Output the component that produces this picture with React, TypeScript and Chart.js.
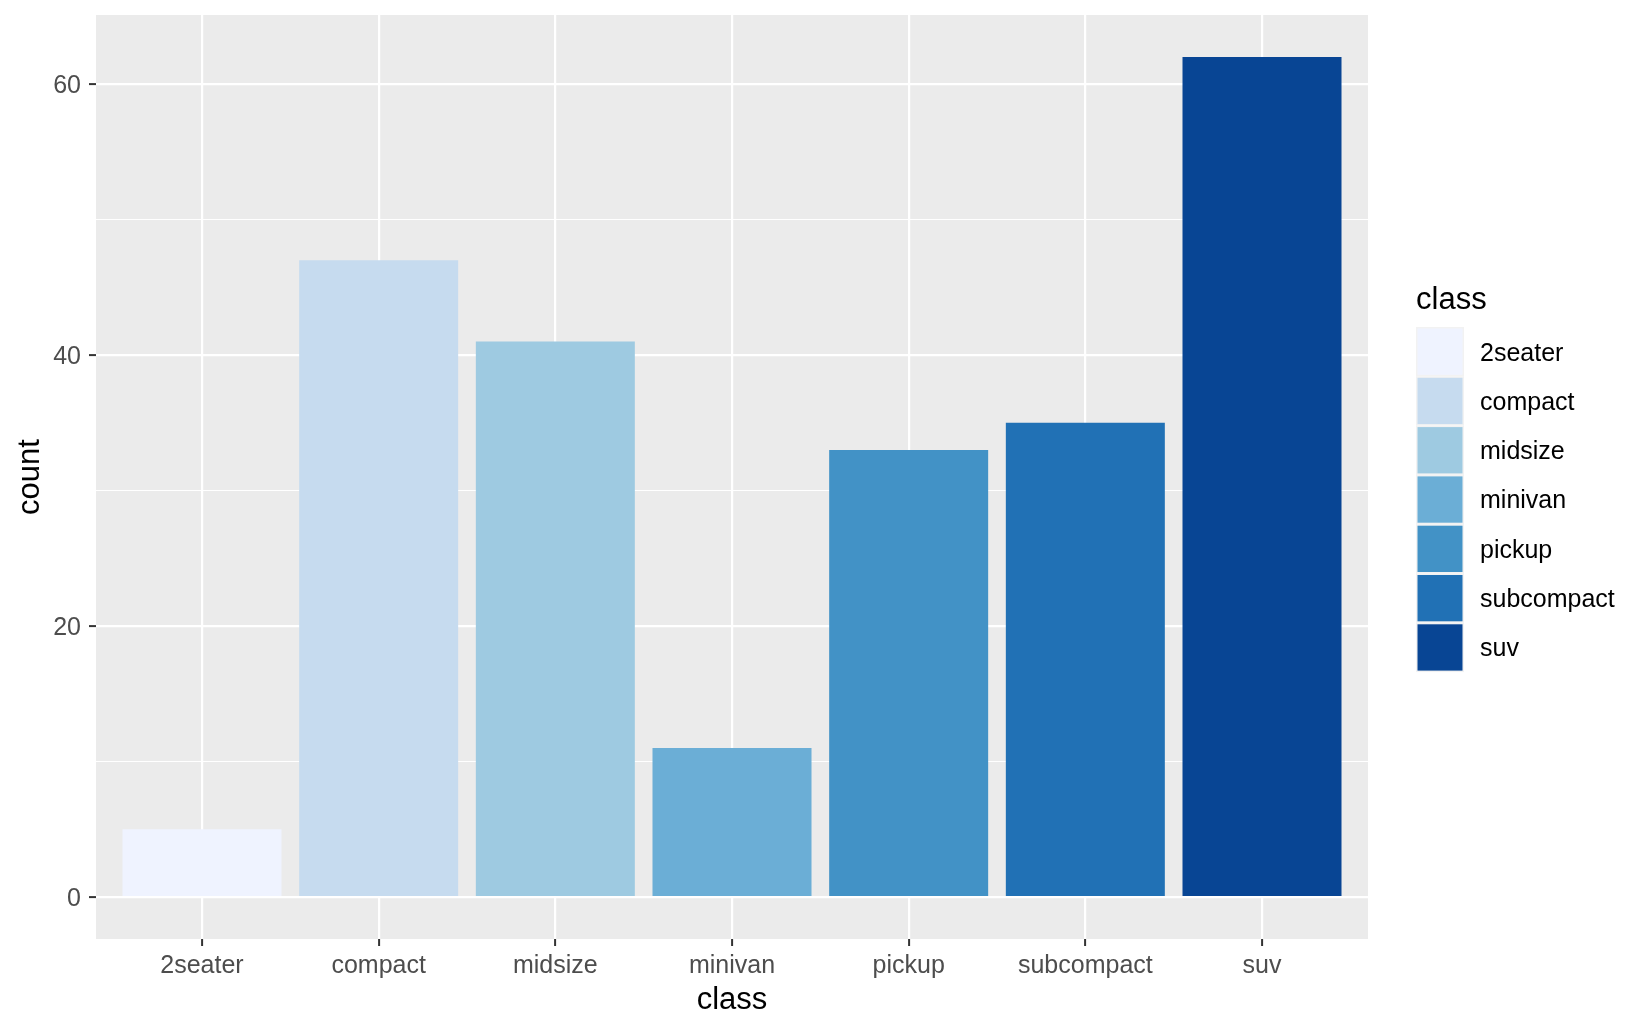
import React, { useEffect, useRef } from "react";
import { Chart, registerables } from "chart.js";

Chart.register(...registerables);

const categories = ["2seater", "compact", "midsize", "minivan", "pickup", "subcompact", "suv"];
const counts = [5, 47, 41, 11, 33, 35, 62];
const colors = ["#EFF3FF", "#C6DBEF", "#9ECAE1", "#6BAED6", "#4292C6", "#2171B5", "#084594"];
const yMajorTicks = [0, 20, 40, 60];
const yMinorTicks = [10, 30, 50];
const xTitle = "class";
const yTitle = "count";
const legendTitle = "class";

const FONT = "'Liberation Sans', Arial, sans-serif";

const panelBg = {
  id: "panelBg",
  beforeDraw(chart: any) {
    const { ctx, chartArea } = chart;
    ctx.save();
    ctx.fillStyle = "#EBEBEB";
    ctx.fillRect(chartArea.left, chartArea.top, chartArea.right - chartArea.left, chartArea.bottom - chartArea.top);
    ctx.restore();
  },
};

const ggLegend = {
  id: "ggLegend",
  afterDraw(chart: any) {
    const { ctx, chartArea } = chart;
    const x0 = chartArea.right + 48;
    const keyTop = 327;
    const pitch = 49.3;
    ctx.save();
    ctx.fillStyle = "#000000";
    ctx.font = `31px ${FONT}`;
    ctx.textBaseline = "alphabetic";
    ctx.textAlign = "left";
    ctx.fillText(legendTitle, x0, 309);
    categories.forEach((c, i) => {
      const y = keyTop + i * pitch;
      ctx.fillStyle = "#F2F2F2";
      ctx.fillRect(x0, y, 48, pitch);
      ctx.fillStyle = colors[i];
      ctx.fillRect(x0 + 1.5, y + 1.5, 45, pitch - 3);
      ctx.fillStyle = "#000000";
      ctx.font = `25px ${FONT}`;
      ctx.textBaseline = "middle";
      ctx.fillText(c, x0 + 64, y + pitch / 2 + 2);
    });
    ctx.restore();
  },
};

export default function App() {
  const ref = useRef<HTMLCanvasElement | null>(null);
  useEffect(() => {
    if (!ref.current) return;
    Chart.defaults.font.family = FONT;
    const chart = new Chart(ref.current, {
      type: "bar",
      data: {
        datasets: [
          {
            label: "count",
            data: counts.map((v, i) => ({ x: i + 1, y: v })),
            backgroundColor: colors,
            borderWidth: 0,
            barPercentage: 0.9,
            categoryPercentage: 1,
          },
        ],
      },
      plugins: [panelBg, ggLegend],
      options: {
        animation: false,
        responsive: false,
        maintainAspectRatio: false,
        layout: { padding: { left: 0, top: 15, right: 282, bottom: 0 } },
        plugins: { legend: { display: false }, tooltip: { enabled: false } },
        scales: {
          x: {
            type: "linear",
            min: 0.4,
            max: 7.6,
            offset: false,
            afterBuildTicks: (s: any) => {
              s.ticks = categories.map((_, i) => ({ value: i + 1 }));
            },
            afterFit: (s: any) => {
              s.height = 92;
              s.paddingLeft = 0;
              s.paddingRight = 0;
            },
            ticks: {
              autoSkip: false,
              maxRotation: 0,
              padding: 5,
              color: "#4D4D4D",
              font: { size: 25, family: FONT },
              callback: (v: any) => categories[Math.round(v) - 1] ?? "",
            },
            grid: {
              offset: false,
              color: "#FFFFFF",
              lineWidth: 2.2,
              tickColor: "#333333",
              tickWidth: 2,
              tickLength: 7,
            },
            border: { display: false },
            title: {
              display: true,
              text: xTitle,
              color: "#000000",
              font: { size: 31, family: FONT },
              padding: { top: 0, bottom: 12 },
            },
          },
          y: {
            type: "linear",
            min: -3.1,
            max: 65.1,
            afterBuildTicks: (s: any) => {
              s.ticks = [...yMajorTicks, ...yMinorTicks].sort((a, b) => a - b).map((v) => ({ value: v }));
            },
            afterFit: (s: any) => {
              s.width = 96;
              s.paddingTop = 0;
              s.paddingBottom = 0;
            },
            ticks: {
              autoSkip: false,
              padding: 8,
              labelOffset: 2,
              color: "#4D4D4D",
              font: { size: 25, family: FONT },
              callback: (v: any) => (yMajorTicks.includes(v) ? String(v) : ""),
            },
            grid: {
              color: "#FFFFFF",
              lineWidth: (c: any) => (c.tick && yMajorTicks.includes(c.tick.value) ? 2.2 : 1.1),
              tickColor: (c: any) => (c.tick && yMajorTicks.includes(c.tick.value) ? "#333333" : "rgba(0,0,0,0)"),
              tickWidth: 2,
              tickLength: 7,
            },
            border: { display: false },
            title: {
              display: true,
              text: yTitle,
              color: "#000000",
              font: { size: 31, family: FONT },
              padding: { top: 12, bottom: 0 },
            },
          },
        },
      },
    } as any);
    return () => chart.destroy();
  }, []);
  return (
    <div style={{ position: "fixed", left: 0, top: 0, width: 1650, height: 1031, background: "#FFFFFF" }}>
      <canvas ref={ref} width={1650} height={1031} style={{ display: "block" }} />
    </div>
  );
}
